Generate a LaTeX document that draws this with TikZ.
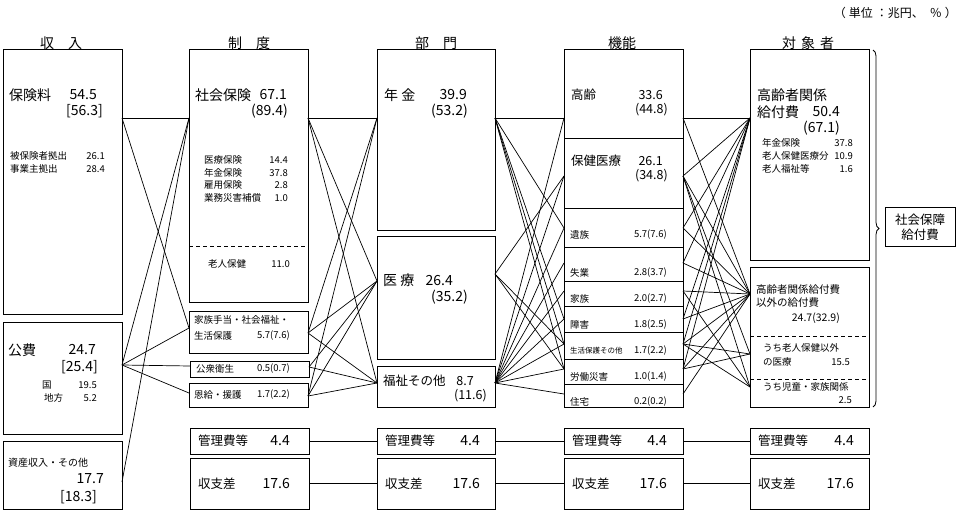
\documentclass[tikz,border=0pt]{standalone}
\usepackage{fontspec}
\setmainfont{Noto Sans CJK JP}
\usetikzlibrary{decorations.pathreplacing}
\tikzset{
  box/.style={draw,line width=1pt,anchor=north west,inner sep=0pt,outer sep=0pt},
  link/.style={line width=0.7pt},
  cut/.style={line width=0.8pt,dash pattern=on 4pt off 3pt},
  big/.style={inner sep=0pt,font=\fontsize{14}{16}\selectfont},
  mid/.style={inner sep=0pt,font=\fontsize{12.5}{15}\selectfont},
  sml/.style={inner sep=0pt,font=\fontsize{9.5}{11}\selectfont},
  tny/.style={inner sep=0pt,font=\fontsize{7.5}{9}\selectfont}
}
\newcommand{\panel}[5]{\node[box,minimum width=#4pt,minimum height=#5pt] (#1) at (#2,#3) {};}

\begin{document}
\begin{tikzpicture}[x=1pt,y=-1pt]
\useasboundingbox (0,0) rectangle (965,521);
\panel{hoken}{3}{50}{119}{264}
\panel{kohi}{3}{322}{119}{112}
\panel{shisan}{3}{441}{119}{68}
\panel{shaho}{189}{50}{119}{252}
\panel{kazoku}{189}{311}{119}{42}
\panel{koshu}{190}{361}{119}{16}
\panel{onkyu}{189}{383}{119}{24}
\panel{kanriB}{190}{428}{119}{26}
\panel{shushiB}{190}{458}{119}{51}
\panel{nenkin}{377}{50}{118}{180}
\panel{iryo}{377}{236}{118}{123}
\panel{fukushi}{377}{366}{118}{41}
\panel{kanriC}{377}{428}{118}{26}
\panel{shushiC}{377}{458}{118}{51}
\panel{kino}{564}{50}{119}{357}
\panel{kanriD}{564}{428}{119}{26}
\panel{shushiD}{564}{458}{119}{51}
\panel{koreisha}{750}{50}{119}{210}
\panel{igai}{750}{267}{119}{140}
\panel{kanriE}{750}{428}{119}{26}
\panel{shushiE}{750}{458}{119}{51}
\foreach \y in {138,208,247,281,306,332,359,384}
  \draw[line width=0.9pt] (kino.west |- 0,\y) -- (kino.east |- 0,\y);
\draw[cut] (shaho.west |- 0,246) -- (shaho.east |- 0,246);
\draw[cut] (igai.west |- 0,336) -- (igai.east |- 0,336);
\draw[cut] (igai.west |- 0,379) -- (igai.east |- 0,379);

\node[big] (h1) at (61,43) {収　入};
\node[big] (h2) at (249,43) {制　度};
\node[big] (h3) at (436,43) {部　門};
\node[big] (h4) at (622,43) {機能};
\node[big] (h5) at (808,43) {対\hspace{5pt}象\hspace{5pt}者};
\node[inner sep=0pt,font=\fontsize{12}{14}\selectfont,anchor=east] (unit) at (957,13) {（\hspace{3pt}単位\hspace{3pt}：兆円、\hspace{6pt}％\hspace{3pt}）};

\node[big,anchor=west] (hokT) at (9,95) {保険料};
\node[big,anchor=east] (hokV) at (97,95) {54.5};
\node[big,anchor=east] (hokB) at (103,111) {[56.3]};
\node[sml,anchor=west] (hi1) at (10,156) {被保険者拠出};
\node[sml,anchor=east] (hi1v) at (105,156) {26.1};
\node[sml,anchor=west] (hi2) at (10,169) {事業主拠出};
\node[sml,anchor=east] (hi2v) at (105,169) {28.4};
\node[big,anchor=west] (kohT) at (8,350) {公費};
\node[big,anchor=east] (kohV) at (96,350) {24.7};
\node[big,anchor=east] (kohB) at (98,367) {[25.4]};
\node[sml,anchor=west] (ko1) at (42,385) {国};
\node[sml,anchor=east] (ko1v) at (97,385) {19.5};
\node[sml,anchor=west] (ko2) at (44,398) {地方};
\node[sml,anchor=east] (ko2v) at (97,398) {5.2};
\node[inner sep=0pt,font=\fontsize{10}{12}\selectfont,anchor=west] (shiT) at (8,463) {資産収入・その他};
\node[big,anchor=east] (shiV) at (104,479) {17.7};
\node[big,anchor=east] (shiB) at (97,497) {[18.3]};

\node[big,anchor=west] (shaT) at (195,95) {社会保険};
\node[big,anchor=east] (shaV) at (287,95) {67.1};
\node[big,anchor=east] (shaB) at (288,111) {(89.4)};
\foreach \lab/\val/\yy in {医療保険/14.4/160,年金保険/37.8/173,雇用保険/2.8/185,業務災害補償/1.0/198}{
  \node[sml,anchor=west] (s\yy) at (204,\yy) {\lab};
  \node[sml,anchor=east] (n\yy) at (288,\yy) {\val};}
\node[sml,anchor=west] (roT) at (208,264) {老人保健};
\node[sml,anchor=east] (roV) at (290,264) {11.0};
\node[sml,anchor=west] (kaz1) at (194,320) {家族手当・社会福祉・};
\node[sml,anchor=west] (kaz2) at (194,336) {生活保護};
\node[sml,anchor=east] (kazV) at (290,336) {5.7(7.6)};
\node[sml,anchor=west] (kosT) at (196,369) {公衆衛生};
\node[sml,anchor=east] (kosV) at (290,369) {0.5(0.7)};
\node[sml,anchor=west] (onkT) at (194,395) {恩給・援護};
\node[sml,anchor=east] (onkV) at (290,395) {1.7(2.2)};

\node[big,anchor=west] (nenT) at (384,95) {年 金};
\node[big,anchor=east] (nenV) at (467,95) {39.9};
\node[big,anchor=east] (nenB) at (468,111) {(53.2)};
\node[big,anchor=west] (iryT) at (383,280) {医 療};
\node[big,anchor=east] (iryV) at (453,281) {26.4};
\node[big,anchor=east] (iryB) at (468,297) {(35.2)};
\node[mid,anchor=west] (fukT) at (383,381) {福祉その他};
\node[mid,anchor=east] (fukV) at (474,381) {8.7};
\node[mid,anchor=east] (fukB) at (487,396) {(11.6)};

\node[mid,anchor=west] (korT) at (571,95) {高齢};
\node[mid,anchor=east] (korV) at (663,95) {33.6};
\node[mid,anchor=east] (korB) at (668,110) {(44.8)};
\node[mid,anchor=west] (hokiT) at (571,161) {保健医療};
\node[mid,anchor=east] (hokiV) at (663,161) {26.1};
\node[mid,anchor=east] (hokiB) at (668,176) {(34.8)};
\foreach \nm/\lab/\val/\yy in {izo/遺族/5.7(7.6)/235,shit/失業/2.8(3.7)/273,kazo/家族/2.0(2.7)/299,sho/障害/1.8(2.5)/325,ro/労働災害/1.0(1.4)/377,ju/住宅/0.2(0.2)/402}{
  \node[sml,anchor=west] (t\nm) at (570,\yy) {\lab};
  \node[sml,anchor=east] (v\nm) at (667,\yy) {\val};}
\node[tny,anchor=west] (tsei) at (570,351) {生活保護その他};
\node[sml,anchor=east] (vsei) at (667,351) {1.7(2.2)};

\node[big,anchor=west] (kre1) at (757,95) {高齢者関係};
\node[big,anchor=west] (kre2) at (757,112) {給付費};
\node[big,anchor=east] (kreV) at (840,112) {50.4};
\node[big,anchor=east] (kreB) at (840,128) {(67.1)};
\foreach \lab/\val/\yy in {年金保険/37.8/143,老人保健医療分/10.9/156,老人福祉等/1.6/169}{
  \node[sml,anchor=west] (k\yy) at (762,\yy) {\lab};
  \node[sml,anchor=east] (m\yy) at (853,\yy) {\val};}
\node[inner sep=0pt,font=\fontsize{10.5}{12}\selectfont,anchor=west] (iga1) at (756,290) {高齢者関係給付費};
\node[inner sep=0pt,font=\fontsize{10.5}{12}\selectfont,anchor=west] (iga2) at (756,303) {以外の給付費};
\node[inner sep=0pt,font=\fontsize{10.5}{12}\selectfont,anchor=east] (igaV) at (840,318) {24.7(32.9)};
\node[sml,anchor=west] (ir1) at (763,348) {うち老人保健以外};
\node[sml,anchor=west] (ir2) at (763,362) {の医療};
\node[sml,anchor=east] (irV) at (850,362) {15.5};
\node[sml,anchor=west] (ji1) at (763,387) {うち児童・家族関係};
\node[sml,anchor=east] (jiV) at (852,400) {2.5};

\foreach \c/\xa/\xb in {B/198/290,C/385/480,D/572/667,E/758/854}{
  \node[mid,anchor=west] (kt\c) at (\xa,441) {管理費等};
  \node[big,anchor=east] (kv\c) at (\xb,441) {4.4};
  \node[mid,anchor=west] (st\c) at (\xa,484) {収支差};
  \node[big,anchor=east] (sv\c) at (\xb,484) {17.6};}
\draw[link] (kanriB) -- (kanriC) (kanriC) -- (kanriD) (kanriD) -- (kanriE);
\draw[link] (shushiB) -- (shushiC) (shushiC) -- (shushiD) (shushiD) -- (shushiE);

\coordinate (bt) at ([xshift=4pt]koreisha.north east);
\coordinate (bb) at ([xshift=4pt]igai.south east);
\draw[decorate,decoration={brace,amplitude=6pt},line width=0.8pt] (bt) -- (bb);
\node[draw,line width=1pt,minimum width=70pt,minimum height=38pt,inner sep=0pt,align=center,font=\fontsize{12.5}{15}\selectfont] (kyufu) at (920,227) {社会保障\\給付費};

\coordinate (hok-r) at (hoken.east |- 0,118);
\coordinate (koh-r) at (kohi.east |- 0,365);
\coordinate (shi-r) at (shisan.east |- 0,482);
\coordinate (sha-l) at (shaho.west |- 0,118);
\coordinate (sha-r) at (shaho.east |- 0,118);
\coordinate (kaz-l) at (kazoku.west |- 0,328);
\coordinate (kaz-r) at (kazoku.east |- 0,333);
\coordinate (kos-l) at (koshu.west |- 0,366);
\coordinate (kos-r) at (koshu.east |- 0,367);
\coordinate (onk-l) at (onkyu.west |- 0,393);
\coordinate (onk-r) at (onkyu.east |- 0,396);
\coordinate (nen-l) at (nenkin.west |- 0,118);
\coordinate (nen-r) at (nenkin.east |- 0,118);
\coordinate (iry-l) at (iryo.west |- 0,281);
\coordinate (iry-r) at (iryo.east |- 0,274);
\coordinate (fuk-l) at (fukushi.west |- 0,383);
\coordinate (fuk-r) at (fukushi.east |- 0,383);
\foreach \nm/\yy in {kor/118,hoki/176,izo/228,shit/263,kazo/291,sho/319,sei/344,ro/369,ju/394}{
  \coordinate (\nm-l) at (kino.west |- 0,\yy);
  \coordinate (\nm-r) at (kino.east |- 0,\yy);}
\coordinate (kre-l) at (koreisha.west |- 0,118);
\coordinate (iga-l) at (igai.west |- 0,294);
\coordinate (iry5-l) at (igai.west |- 0,354);
\coordinate (jid-l) at (igai.west |- 0,387);

\foreach \a/\b in {hok-r/sha-l,hok-r/kaz-l,koh-r/sha-l,koh-r/kaz-l,koh-r/kos-l,koh-r/onk-l,shi-r/sha-l,
  sha-r/nen-l,sha-r/iry-l,sha-r/fuk-l,kaz-r/nen-l,kaz-r/iry-l,kaz-r/fuk-l,kos-r/iry-l,kos-r/fuk-l,
  onk-r/nen-l,onk-r/iry-l,onk-r/fuk-l,
  nen-r/kor-l,nen-r/izo-l,nen-r/sho-l,nen-r/sei-l,nen-r/ro-l,iry-r/hoki-l,iry-r/sei-l,iry-r/ro-l,
  fuk-r/kor-l,fuk-r/hoki-l,fuk-r/izo-l,fuk-r/shit-l,fuk-r/kazo-l,fuk-r/sho-l,fuk-r/sei-l,fuk-r/ro-l,fuk-r/ju-l,
  kor-r/kre-l,kor-r/iga-l,hoki-r/kre-l,hoki-r/iga-l,hoki-r/iry5-l,hoki-r/jid-l,izo-r/kre-l,izo-r/iga-l,
  shit-r/kre-l,shit-r/iga-l,kazo-r/iga-l,kazo-r/jid-l,sho-r/kre-l,sho-r/iga-l,sei-r/kre-l,sei-r/iga-l,
  sei-r/iry5-l,sei-r/jid-l,ro-r/kre-l,ro-r/iga-l,ro-r/iry5-l,ju-r/iga-l}
  \draw[link] (\a) -- (\b);
\end{tikzpicture}
\end{document}
